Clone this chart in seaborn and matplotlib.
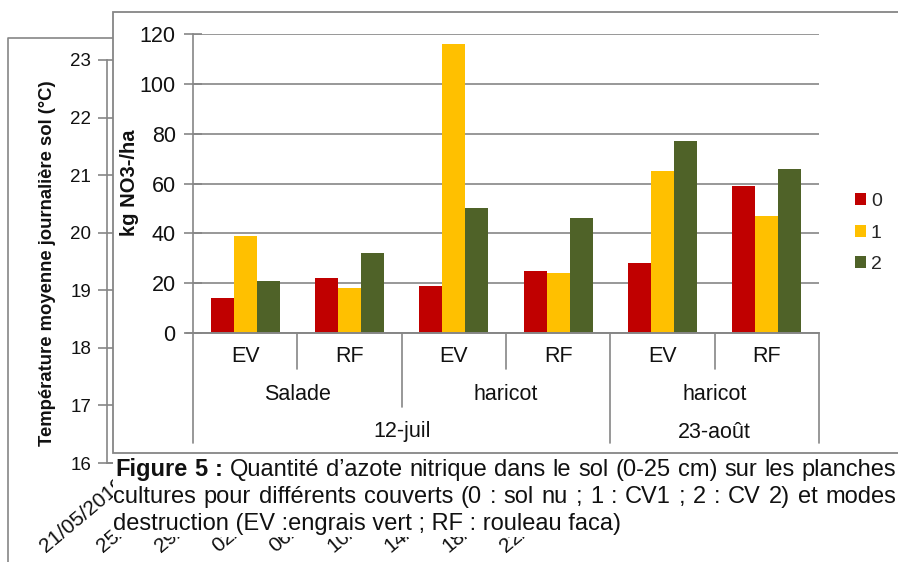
import matplotlib
matplotlib.use('Agg')
import matplotlib.pyplot as plt
import matplotlib.transforms as mtransforms
import seaborn as sns
import pandas as pd
from matplotlib.patches import Rectangle
from matplotlib.lines import Line2D

sns.set_theme(style='white')
plt.rcParams['font.family'] = ['Liberation Sans', 'DejaVu Sans']

# ---------------- data ----------------
modes = ['EV', 'RF', 'EV', 'RF', 'EV', 'RF']
cultures = ['Salade', 'haricot', 'haricot']
culture_spans = [(0, 2), (2, 4), (4, 6)]
dates = ['12-juil', '23-août']
date_spans = [(0, 4), (4, 6)]
couverts = ['0', '1', '2']
val_0 = [14, 22, 19, 25, 28, 59]
val_1 = [39, 18, 116, 24, 65, 47]
val_2 = [21, 32, 50, 46, 77, 66]
no3_ticks = [0, 20, 40, 60, 80, 100, 120]
temp_ticks = [16, 17, 18, 19, 20, 21, 22, 23]
bg_date_labels = ['21/05/2019', '25/05/2019', '29/05/2019', '02/06/2019',
                  '06/06/2019', '10/06/2019', '14/06/2019', '18/06/2019',
                  '22/06/2019']
bg_date_pos = [0, 4, 8, 12, 16, 20, 24, 28, 32]
caption_bold = 'Figure 5 :'
caption_1 = 'Quantité d’azote nitrique dans le sol (0-25 cm) sur les planches'
caption_2 = 'cultures pour différents couverts (0 : sol nu ; 1 : CV1 ; 2 : CV 2) et modes'
caption_3 = 'destruction (EV :engrais vert ; RF : rouleau faca)'

colors = ['#C00000', '#FFC000', '#4F6228']
GRAY = '#868686'
TXT = '#111111'

W, H = 898, 562
fig = plt.figure(figsize=(W / 100, H / 100), dpi=100)
fig.patch.set_facecolor('white')


def fx(px):
    return px / W


def fy(py):
    return 1 - py / H


# ---------------- background (temperature) chart ----------------
fig.add_artist(Line2D([fx(8), fx(8), fx(113)], [fy(562), fy(38), fy(38)],
                      color=GRAY, lw=1.2, zorder=0.5))
ax_bg = fig.add_axes([fx(107), fy(463), (W - 107) / W, (463 - 60) / H], zorder=0)
ax_bg.set_facecolor('none')
ax_bg.set_ylim(16, 23)
px_per_day = 57.5 / 4
left_day = -(116 - 107) / px_per_day
ax_bg.set_xlim(left_day, left_day + (W - 107) / px_per_day)
ax_bg.set_yticks(temp_ticks)
ax_bg.set_yticklabels([str(t) for t in temp_ticks], fontsize=13.5, color=TXT)
ax_bg.set_xticks(bg_date_pos)
ax_bg.set_xticklabels(bg_date_labels, rotation=40, ha='right', va='top',
                      rotation_mode='anchor', fontsize=15, color=TXT)
for s in ['top', 'right']:
    ax_bg.spines[s].set_visible(False)
for s in ['left', 'bottom']:
    ax_bg.spines[s].set_color(GRAY)
    ax_bg.spines[s].set_linewidth(1.2)
ax_bg.tick_params(axis='y', direction='inout', length=13, width=1.2, color=GRAY, pad=5, left=True)
ax_bg.tick_params(axis='x', length=0, pad=8)
ax_bg.set_ylabel('Température moyenne journalière sol (°C)', fontsize=13.3,
                 fontweight='bold', color=TXT)
ax_bg.yaxis.set_label_coords(fx(56), 0.5 * (fy(80) + fy(447)), transform=fig.transFigure)

# ---------------- foreground frame ----------------
fig.add_artist(Rectangle((fx(113), fy(453)), fx(W + 20) - fx(113), fy(12) - fy(453),
                         facecolor='white', edgecolor=GRAY, lw=1.3, zorder=1,
                         transform=fig.transFigure))

# ---------------- bar chart ----------------
ax = fig.add_axes([fx(193), fy(333), (819 - 193) / W, (333 - 34) / H], zorder=2)
ax.set_facecolor('none')
groups = [f'g{i}' for i in range(len(modes))]
df = pd.DataFrame({
    'groupe': groups * 3,
    'couvert': sum([[c] * len(groups) for c in couverts], []),
    'valeur': val_0 + val_1 + val_2,
})
sns.barplot(data=df, x='groupe', y='valeur', hue='couvert', order=groups,
            hue_order=couverts, palette=colors, width=0.66, gap=0,
            saturation=1, ax=ax, linewidth=0)
ax.set_ylim(0, 120)
ax.set_xlim(-0.5, len(groups) - 0.5)
ax.set_yticks(no3_ticks)
ax.set_yticklabels([str(t) for t in no3_ticks], fontsize=15.5, color=TXT)
ax.yaxis.grid(True, color=GRAY, lw=1.2)
ax.set_axisbelow(True)
ax.set_xticks([])
ax.set_xlabel('')
ax.set_ylabel('kg NO3-/ha', fontsize=14.5, fontweight='bold', color=TXT)
ax.yaxis.set_label_coords(fx(139), fy(183), transform=fig.transFigure)
for s in ['top', 'right']:
    ax.spines[s].set_visible(False)
for s in ['left', 'bottom']:
    ax.spines[s].set_color(GRAY)
    ax.spines[s].set_linewidth(1.2)
ax.tick_params(axis='y', direction='inout', length=13, width=1.2, color=GRAY, pad=6, left=True)

# legend
handles, labels = ax.get_legend_handles_labels()
leg = ax.legend(handles, labels, loc='center left', bbox_to_anchor=(fx(855), fy(233)),
                bbox_transform=fig.transFigure, frameon=False, fontsize=14,
                handlelength=0.57, handleheight=0.57, handletextpad=0.25,
                labelspacing=0.75, borderpad=0, borderaxespad=0)

# hierarchical category axis
tr = mtransforms.blended_transform_factory(ax.transData, fig.transFigure)
depth = {-0.5: 443, 0.5: 369, 1.5: 407, 2.5: 369, 3.5: 443, 4.5: 369, 5.5: 443}
for xb, yend in depth.items():
    ax.add_line(Line2D([xb, xb], [fy(333), fy(yend)], transform=tr, color=GRAY,
                       lw=1.2, clip_on=False))
ax.add_line(Line2D([-0.57, 5.5], [fy(333), fy(333)], transform=tr, color=GRAY,
                   lw=1.2, clip_on=False))
for i, m in enumerate(modes):
    ax.text(i, fy(357), m, transform=tr, ha='center', va='center', fontsize=15.5,
            color=TXT)
for (a, b), c in zip(culture_spans, cultures):
    ax.text((a + b - 1) / 2, fy(394), c, transform=tr, ha='center', va='center',
            fontsize=15.5, color=TXT)
for (a, b), d in zip(date_spans, dates):
    ax.text((a + b - 1) / 2, fy(432), d, transform=tr, ha='center', va='center',
            fontsize=15.5, color=TXT)

# ---------------- caption ----------------
fig.add_artist(Rectangle((fx(113), fy(537)), fx(W + 20) - fx(113), fy(455) - fy(537),
                         facecolor='white', edgecolor='none', zorder=3,
                         transform=fig.transFigure))
CAP_FS = 17
renderer = fig.canvas.get_renderer()


def justified_line(tokens, x0, x1, baseline):
    """tokens: list of (word, weight); spread words between x0 and x1 (pixels)."""
    arts = []
    widths = []
    for word, weight in tokens:
        t = fig.text(0, fy(baseline), word, fontsize=CAP_FS, fontweight=weight,
                     color=TXT, va='baseline', zorder=4)
        widths.append(t.get_window_extent(renderer).width)
        arts.append(t)
    gap = (x1 - x0 - sum(widths)) / max(len(tokens) - 1, 1)
    x = x0
    for t, w in zip(arts, widths):
        t.set_x(fx(x))
        x += w + gap


tok1 = [(w, 'bold') for w in caption_bold.split()] + [(w, 'normal') for w in caption_1.split()]
tok2 = [(w, 'normal') for w in caption_2.split()]
justified_line(tok1, 115, 896, 476)
justified_line(tok2, 113, 896, 503)
fig.text(fx(113), fy(530), caption_3, fontsize=CAP_FS, color=TXT, va='baseline', zorder=4)

fig.savefig('out.png', dpi=100, facecolor='white')
